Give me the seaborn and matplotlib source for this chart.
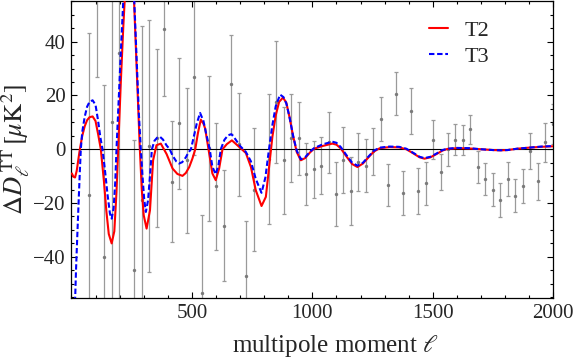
import matplotlib
matplotlib.use("Agg")
import matplotlib.pyplot as plt
import numpy as np
import seaborn as sns
from matplotlib.ticker import MultipleLocator

# binned residuals (multipole, value, 1-sigma error)
ell_bins = [75, 106, 137, 168, 199, 230, 261, 292, 323, 354, 385, 416, 447, 478,
            509, 540, 571, 602, 633, 664, 695, 726, 757, 788, 819, 850, 881, 912,
            943, 974, 1005, 1036, 1067, 1098, 1129, 1160, 1191, 1222, 1253, 1284,
            1315, 1346, 1377, 1408, 1439, 1470, 1501, 1532, 1563, 1594, 1625, 1656,
            1687, 1718, 1749, 1780, 1811, 1842, 1873, 1904, 1935, 1966, 1997]
dl_bins = [-17.1, 85, -40, 10, 35.6, 110, -45, -19, 1.2, 4.2, 44.7, -12, 9.6, -4.1,
           26.9, -53.4, 0.4, -13.7, -28.4, 24.1, 1.8, -47.1, -15.0, -90, -3.6, 17.6,
           -4.1, 4.2, 4.1, -9.3, -7.5, -6.1, 2.6, -16.6, -3.9, -15.6, -4.7, -6.1,
           -0.8, 11.2, -13.4, 20.6, -16.3, 14.3, -15.4, -12.7, 3.6, -8.4, 0.0, 3.6,
           3.4, 7.5, -6.6, -11.0, -15.0, -18.9, -11.0, -17.3, -13.5, -0.6, -11.9,
           2.6, 9.5]
err_bins = [60.3, 58, 64, 75, 95, 40, 48.3, 64.7, 47, 33.2, 25, 22.4, 24.2, 27,
            29.1, 28.9, 26.9, 23.6, 20.6, 18.3, 19.2, 20.3, 22.8, 20, 24.3, 22.7,
            19.8, 16.5, 13.5, 11.5, 10.5, 10.7, 11.3, 11.9, 12.2, 12.7, 10.9, 9.8,
            8.6, 8.1, 7.8, 8.0, 8.2, 8.6, 8.5, 8.1, 7.4, 6.6, 6.2, 5.9, 5.6, 5.4,
            5.9, 6.0, 6.2, 6.4, 6.3, 6.2, 6.3, 6.7, 6.8, 7.3, 7.5]

# model T2
ell_t2 = [2, 8, 15, 22, 30, 35, 45, 55, 65, 75, 88, 100, 111, 122, 135, 145, 155,
          167, 178, 187, 194, 205, 215, 225, 235, 242, 250, 260, 270, 284, 292,
          300, 312, 326, 339, 353, 371, 395, 420, 440, 461, 475, 489, 502, 514,
          525, 537, 548, 555, 569, 585, 599, 613, 627, 645, 666, 696, 724, 745,
          765, 789, 807, 826, 834, 848, 862, 878, 892, 905, 920, 935, 952, 970,
          990, 1007, 1042, 1083, 1100, 1118, 1140, 1165, 1187, 1210, 1235, 1256,
          1280, 1320, 1360, 1390, 1420, 1445, 1465, 1490, 1515, 1540, 1560, 1600,
          1650, 1700, 1750, 1780, 1810, 1850, 1900, 1950, 2000]
t2 = [-9.0, -10.2, -10.5, -8.0, -3.0, 0.0, 5.0, 8.5, 10.8, 11.9, 12.2, 10.5, 5.5,
      0.0, -12.0, -23.0, -31.5, -35.0, -30.5, -16.0, 0.0, 25.0, 45.0, 62.0, 72.0,
      73.0, 70.0, 55.0, 32.0, 0.0, -15.0, -24.5, -29.5, -22.7, -4.1, 1.5, 2.1,
      -1.8, -7.2, -9.2, -9.9, -8.8, -6.6, -3.5, 0.0, 6.0, 11.0, 9.5, 7.7, 0.0,
      -9.0, -11.5, -7.2, 0.0, 1.9, 3.3, 0.9, -1.4, -6.6, -15.2, -21.1, -17.7,
      -2.0, 4.6, 12.6, 17.6, 19.2, 17.3, 12.0, 5.0, -1.0, -4.1, -3.3, -1.2, 0.2,
      1.2, 2.1, 1.7, 0.3, -2.5, -5.5, -6.6, -5.3, -2.8, -0.8, 0.4, 0.8, 0.7, 0.0,
      -1.6, -3.0, -3.5, -3.0, -1.8, -0.5, 0.1, 0.4, 0.3, 0.0, -0.3, -0.4, -0.3,
      0.2, 0.6, 0.9, 1.1]

# model T3
ell_t3 = [8, 12, 15, 19, 24, 31, 35, 39, 45, 55, 65, 75, 88, 100, 110, 120, 129,
          140, 150, 160, 167, 175, 182, 187, 195, 205, 215, 225, 235, 242, 250,
          260, 270, 280, 288, 295, 302, 309, 318, 326, 334, 345, 356, 368, 380,
          395, 408, 420, 435, 447, 460, 475, 485, 496, 510, 520, 534, 548, 560,
          574, 585, 599, 610, 620, 635, 650, 664, 680, 700, 724, 745, 765, 789,
          805, 820, 834, 848, 866, 880, 892, 905, 920, 935, 952, 970, 990, 1007,
          1042, 1083, 1100, 1118, 1140, 1165, 1187, 1210, 1235, 1256, 1280, 1320,
          1360, 1390, 1420, 1445, 1465, 1490, 1515, 1540, 1560, 1600, 1650, 1700,
          1750, 1780, 1810, 1850, 1900, 1950, 2000]
t3 = [-95, -70, -57, -45, -33, -17, -8, 0, 6.5, 12, 15.8, 17.6, 18.2, 16.5, 11,
      4.5, 0, -8.5, -17, -24, -25.8, -22, -12, 0, 16, 36, 55, 68, 76, 77, 73, 57,
      35, 13, 0, -10, -18.5, -23.3, -19, -10, 0, 3.2, 4.3, 4.6, 3.6, 1.4, 0,
      -2.4, -4.5, -5.3, -4.8, -3.0, -1.3, 0, 5.5, 9.5, 13.5, 10.5, 5.5, 0, -6.5,
      -9.3, -6, 0, 3.5, 5.2, 5.6, 3.8, 1.2, -1.0, -4.5, -11, -16.2, -10.5, 0, 9,
      16, 20.3, 19.4, 17.0, 12, 5, -0.5, -3.7, -3.0, -0.9, 0.4, 1.8, 2.8, 2.4,
      0.8, -2.0, -5.0, -6.1, -5.0, -2.5, -0.5, 0.6, 1.0, 0.9, 0.2, -1.4, -2.8,
      -3.3, -2.8, -1.6, -0.3, 0.2, 0.5, 0.4, 0.0, -0.3, -0.4, -0.3, 0.2, 0.6,
      1.0, 1.2]

sns.set_style("ticks")
plt.rcParams["font.family"] = ["Liberation Serif", "DejaVu Serif"]
plt.rcParams["mathtext.fontset"] = "stix"

fig = plt.figure(figsize=(5.76, 3.58), dpi=100)
ax = fig.add_axes([0.124, 0.1676, 0.8366, 0.8310])

ax.errorbar(ell_bins, dl_bins, yerr=err_bins, fmt="none", ecolor="#9a9a9a",
            elinewidth=0.9, capsize=1.5, capthick=0.9, zorder=1)
sns.scatterplot(x=ell_bins, y=dl_bins, color="#7a7a7a", s=6, linewidth=0,
                ax=ax, zorder=2)
ax.axhline(0, color="black", lw=0.8, zorder=3)

sns.lineplot(x=ell_t2, y=t2, color="red", lw=1.5, label="T2", ax=ax, zorder=4)
sns.lineplot(x=ell_t3, y=t3, color="blue", lw=1.5, label="T3", ax=ax, zorder=5,
             dashes=False)
ax.lines[-1].set_dashes((2.6, 1.3))

ax.set_xlim(0, 2000)
ax.set_ylim(-55.3, 55.3)
ax.xaxis.set_major_locator(MultipleLocator(500))
ax.xaxis.set_minor_locator(MultipleLocator(100))
ax.yaxis.set_major_locator(MultipleLocator(20))
ax.yaxis.set_minor_locator(MultipleLocator(5))
ax.tick_params(which="both", direction="in", top=True, right=True,
               labelsize=15, width=0.8, color="black")
ax.tick_params(which="major", length=4.5, pad=4)
ax.tick_params(which="minor", length=2.2)
ax.set_xticks([500, 1000, 1500, 2000])
for s in ax.spines.values():
    s.set_linewidth(0.9)
    s.set_color("black")

ax.set_xlabel(r"multipole moment $\ell$", fontsize=18)
ax.xaxis.set_label_coords(0.548, -0.118)
ax.set_ylabel(r"$\Delta D_{\ell}^{\,\mathrm{TT}}\,[\mu\mathrm{K}^2]$", fontsize=19,
              labelpad=1)

leg = ax.legend(loc="upper left", bbox_to_anchor=(0.70, 1.0), frameon=False,
                fontsize=16, handlelength=0.85, handletextpad=0.75,
                labelspacing=0.25)

fig.savefig("out.png", dpi=100)
